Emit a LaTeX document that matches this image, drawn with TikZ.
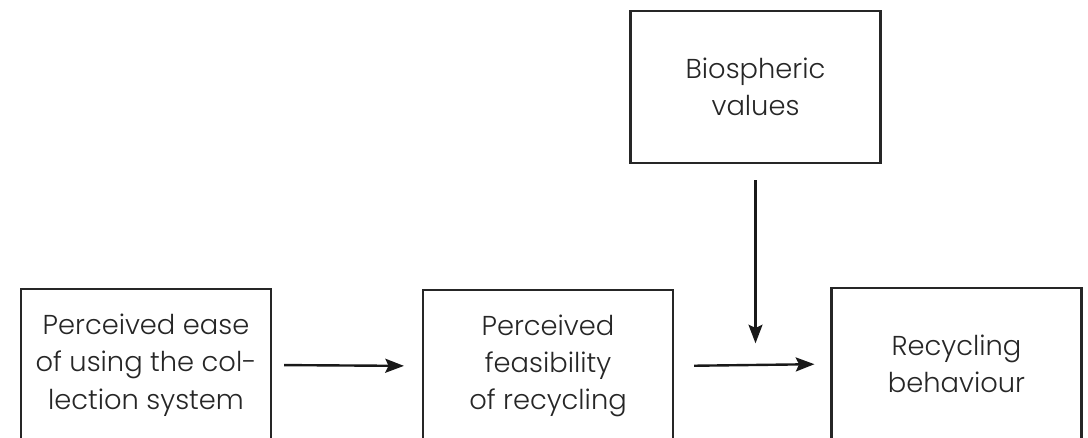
\documentclass[tikz,border=0pt]{standalone}
\usepackage{fontspec}
\setmainfont{Poppins}[UprightFont=* Light]
\usetikzlibrary{arrows.meta}
\begin{document}
\begin{tikzpicture}[x=0.75pt,y=-0.75pt,
  box/.style={draw=black!85, line width=1.6pt, minimum width=187.5pt, minimum height=114pt,
    align=center, inner sep=0pt, font=\fontsize{20.5}{28}\selectfont, text=black!85},
  arr/.style={draw=black!90, line width=1.8pt, -{Stealth[length=14pt,width=10.5pt,inset=2.5pt]}}]
\useasboundingbox (0,0) rectangle (1088,438);
\clip (0,0) rectangle (1088,438);
\node[box] (ease) at (146,365) {Perceived ease\\of using the col-\\lection system};
\node[box] (feas) at (548,366) {Perceived\\feasibility\\of recycling};
\node[box] (beh) at (956.5,364) {Recycling\\behaviour};
\node[box] (bio) at (755.5,87) {Biospheric\\values};
\draw[arr, shorten <=9pt, shorten >=13.5pt] (ease.east) -- (feas.west);
\draw[arr, shorten <=15pt, shorten >=12pt] (feas.east) -- (beh.west);
\draw[arr, shorten <=12pt, shorten >=15.5pt] (bio.south) -- (bio.south |- beh.west);
\end{tikzpicture}
\end{document}
